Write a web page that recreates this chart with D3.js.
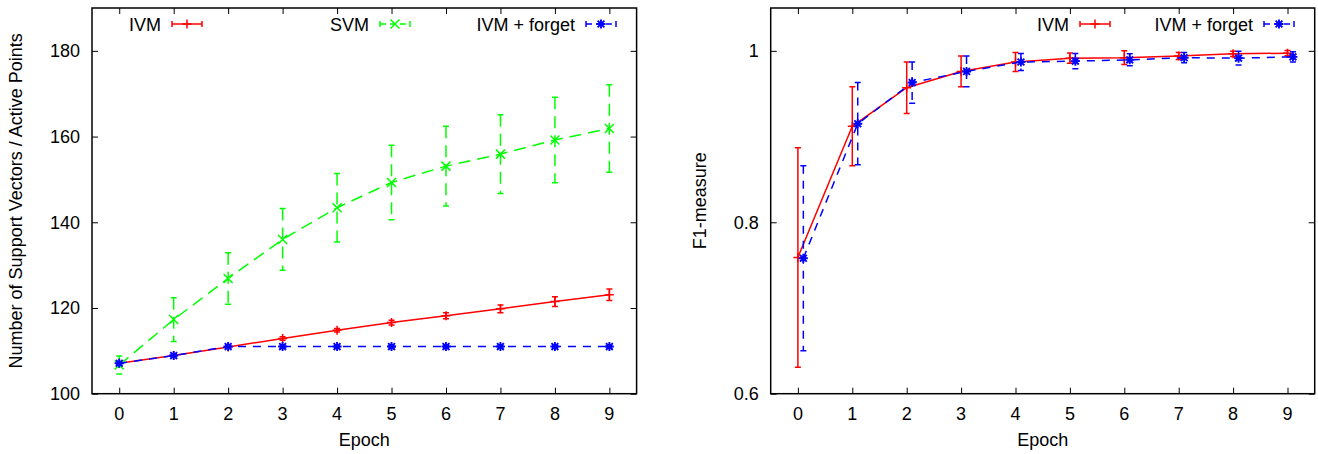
<!DOCTYPE html>
<html>
<head>
<meta charset="utf-8">
<script src="https://cdn.jsdelivr.net/npm/d3@7/dist/d3.min.js"></script>
<style>
  html, body { margin: 0; padding: 0; background: #fff; }
  svg { display: block; font-family: "Liberation Sans", Arial, Helvetica, sans-serif; }
  text { fill: #000; font-size: 18px; }
</style>
</head>
<body>
<svg id="chart" width="1318" height="454"></svg>
<script>
// ---------- data ----------
const epochs = [0, 1, 2, 3, 4, 5, 6, 7, 8, 9];
const xTickLabels = ["0", "1", "2", "3", "4", "5", "6", "7", "8", "9"];

// Left: number of support vectors / active points
const ivmCount      = [107.1, 108.9, 110.9, 112.9, 114.8, 116.6, 118.2, 119.8, 121.5, 123.1];
const ivmCountErr   = [0.2, 0.2, 0.3, 0.4, 0.4, 0.55, 0.7, 0.9, 1.15, 1.35];
const svmCount      = [106.7, 117.3, 126.9, 136.0, 143.4, 149.3, 153.1, 155.9, 159.2, 161.9];
const svmCountErr   = [2.1, 5.1, 6.0, 7.2, 8.0, 8.7, 9.3, 9.2, 10.0, 10.2];
const forgetCount   = [107.1, 108.9, 111.0, 111.0, 111.0, 111.0, 111.0, 111.0, 111.0, 111.0];
const forgetCountErr= [0.3, 0.3, 0.3, 0.3, 0.3, 0.3, 0.3, 0.3, 0.3, 0.3];
const leftYTicks    = [100, 120, 140, 160, 180];
const leftYTickLabels = ["100", "120", "140", "160", "180"];

// Right: F1-measure
const ivmF1        = [0.759, 0.912, 0.957, 0.976, 0.987, 0.9915, 0.992, 0.994, 0.9965, 0.9973];
const ivmF1Err     = [0.128, 0.046, 0.030, 0.018, 0.011, 0.006, 0.008, 0.004, 0.003, 0.003];
const forgetF1     = [0.758, 0.915, 0.963, 0.976, 0.987, 0.988, 0.9895, 0.992, 0.9915, 0.993];
const forgetF1Err  = [0.108, 0.048, 0.024, 0.018, 0.010, 0.009, 0.007, 0.006, 0.008, 0.006];
const rightYTicks  = [0.6, 0.8, 1.0];
const rightYTickLabels = ["0.6", "0.8", "1"];

// ---------- drawing ----------
const svg = d3.select("#chart");

const styles = {
  ivm:    { color: "#ff0000", dash: null,   marker: "plus" },
  svm:    { color: "#00ff00", dash: "12,7", marker: "cross" },
  forget: { color: "#0000ff", dash: "8,7",  marker: "star" }
};

function marker(g, type, cx, cy, color) {
  const s = 4.5;
  const p = d3.path();
  if (type === "plus" || type === "star") {
    p.moveTo(cx - s, cy); p.lineTo(cx + s, cy);
    p.moveTo(cx, cy - s); p.lineTo(cx, cy + s);
  }
  if (type === "cross" || type === "star") {
    const t = type === "star" ? 3.4 : s;
    p.moveTo(cx - t, cy - t); p.lineTo(cx + t, cy + t);
    p.moveTo(cx - t, cy + t); p.lineTo(cx + t, cy - t);
  }
  g.append("path").attr("d", p.toString()).attr("fill", "none")
    .attr("stroke", color).attr("stroke-width", type === "star" ? 1.9 : 1.5);
}

function panel(opt) {
  const { x0, x1, y0, y1, yDomain, yTicks, yTickLabels, yLabel, series, legend } = opt;
  const x = d3.scaleLinear().domain([-0.5, 9.5]).range([x0, x1]);
  const y = d3.scaleLinear().domain(yDomain).range([y1, y0]);
  const g = svg.append("g");

  // ticks (inward, mirrored) via d3 axes
  const tickLen = 6;
  const axB = g.append("g").attr("transform", `translate(0,${y1})`)
    .call(d3.axisTop(x).tickValues(epochs).tickSize(tickLen).tickFormat(""));
  const axT = g.append("g").attr("transform", `translate(0,${y0})`)
    .call(d3.axisBottom(x).tickValues(epochs).tickSize(tickLen).tickFormat(""));
  const axL = g.append("g").attr("transform", `translate(${x0},0)`)
    .call(d3.axisRight(y).tickValues(yTicks).tickSize(tickLen).tickFormat(""));
  const axR = g.append("g").attr("transform", `translate(${x1},0)`)
    .call(d3.axisLeft(y).tickValues(yTicks).tickSize(tickLen).tickFormat(""));
  [axB, axT, axL, axR].forEach(a => {
    a.select(".domain").remove();
    a.selectAll("line").attr("stroke", "#000").attr("stroke-width", 1);
  });

  // tick labels
  g.selectAll(".xl").data(epochs).enter().append("text")
    .attr("x", d => x(d)).attr("y", y1 + 26).attr("text-anchor", "middle")
    .text((d, i) => xTickLabels[i]);
  g.selectAll(".yl").data(yTicks).enter().append("text")
    .attr("x", x0 - 12).attr("y", d => y(d) + 6.5).attr("text-anchor", "end")
    .text((d, i) => yTickLabels[i]);

  // axis titles
  g.append("text").attr("x", (x0 + x1) / 2).attr("y", y1 + 52)
    .attr("text-anchor", "middle").text("Epoch");
  g.append("text")
    .attr("transform", `translate(${opt.yLabelX},${(y0 + y1) / 2}) rotate(-90)`)
    .attr("text-anchor", "middle").text(yLabel);

  // clip region
  const clipId = "clip" + Math.round(x0);
  svg.append("clipPath").attr("id", clipId).append("rect")
    .attr("x", x0).attr("y", y0).attr("width", x1 - x0).attr("height", y1 - y0);
  const plot = g.append("g").attr("clip-path", `url(#${clipId})`);

  // series
  series.forEach(s => {
    const st = styles[s.key];
    const sg = plot.append("g");
    const pts = epochs.map((e, i) => ({ e: e + (s.offset || 0), v: s.values[i], err: s.errors[i] }));
    const line = d3.line().x(d => x(d.e)).y(d => y(d.v));
    sg.append("path").datum(pts).attr("d", line).attr("fill", "none")
      .attr("stroke", st.color).attr("stroke-width", 1.5)
      .attr("stroke-dasharray", st.dash);
    pts.forEach(d => {
      const cx = x(d.e), yt = y(d.v + d.err), yb = y(d.v - d.err);
      sg.append("line").attr("x1", cx).attr("x2", cx).attr("y1", yt).attr("y2", yb)
        .attr("stroke", st.color).attr("stroke-width", 1.5).attr("stroke-dasharray", st.dash);
      sg.append("line").attr("x1", cx - 3).attr("x2", cx + 3).attr("y1", yt).attr("y2", yt)
        .attr("stroke", st.color).attr("stroke-width", 1.5);
      sg.append("line").attr("x1", cx - 3).attr("x2", cx + 3).attr("y1", yb).attr("y2", yb)
        .attr("stroke", st.color).attr("stroke-width", 1.5);
      marker(sg, st.marker, cx, y(d.v), st.color);
    });
  });

  // legend
  legend.forEach(l => {
    const st = styles[l.key];
    const ly = 24;
    g.append("text").attr("x", l.sx - 11).attr("y", ly + 6.5)
      .attr("text-anchor", "end").text(l.label);
    const sx0 = l.sx, sx1 = l.sx + 30;
    g.append("line").attr("x1", sx0).attr("x2", sx1).attr("y1", ly).attr("y2", ly)
      .attr("stroke", st.color).attr("stroke-width", 1.5).attr("stroke-dasharray", st.dash ? "6,4" : null);
    [sx0, sx1].forEach(cx => g.append("line").attr("x1", cx).attr("x2", cx)
      .attr("y1", ly - 3).attr("y2", ly + 3).attr("stroke", st.color).attr("stroke-width", 1.5));
    marker(g, st.marker, (sx0 + sx1) / 2, ly, st.color);
  });

  // frame
  g.append("rect").attr("x", x0).attr("y", y0).attr("width", x1 - x0).attr("height", y1 - y0)
    .attr("fill", "none").attr("stroke", "#000").attr("stroke-width", 1.5);
}

panel({
  x0: 92, x1: 636.6, y0: 8, y1: 393.7,
  yDomain: [100, 190], yTicks: leftYTicks, yTickLabels: leftYTickLabels,
  yLabel: "Number of Support Vectors / Active Points", yLabelX: 22,
  series: [
    { key: "ivm", values: ivmCount, errors: ivmCountErr },
    { key: "svm", values: svmCount, errors: svmCountErr },
    { key: "forget", values: forgetCount, errors: forgetCountErr }
  ],
  legend: [
    { key: "ivm", label: "IVM", sx: 172 },
    { key: "svm", label: "SVM", sx: 380 },
    { key: "forget", label: "IVM + forget", sx: 586 }
  ]
});

panel({
  x0: 770.7, x1: 1314.7, y0: 8, y1: 393.7,
  yDomain: [0.6, 1.05], yTicks: rightYTicks, yTickLabels: rightYTickLabels,
  yLabel: "F1-measure", yLabelX: 706,
  series: [
    { key: "ivm", values: ivmF1, errors: ivmF1Err },
    { key: "forget", values: forgetF1, errors: forgetF1Err, offset: 0.1 }
  ],
  legend: [
    { key: "ivm", label: "IVM", sx: 1080 },
    { key: "forget", label: "IVM + forget", sx: 1264 }
  ]
});
</script>
</body>
</html>
